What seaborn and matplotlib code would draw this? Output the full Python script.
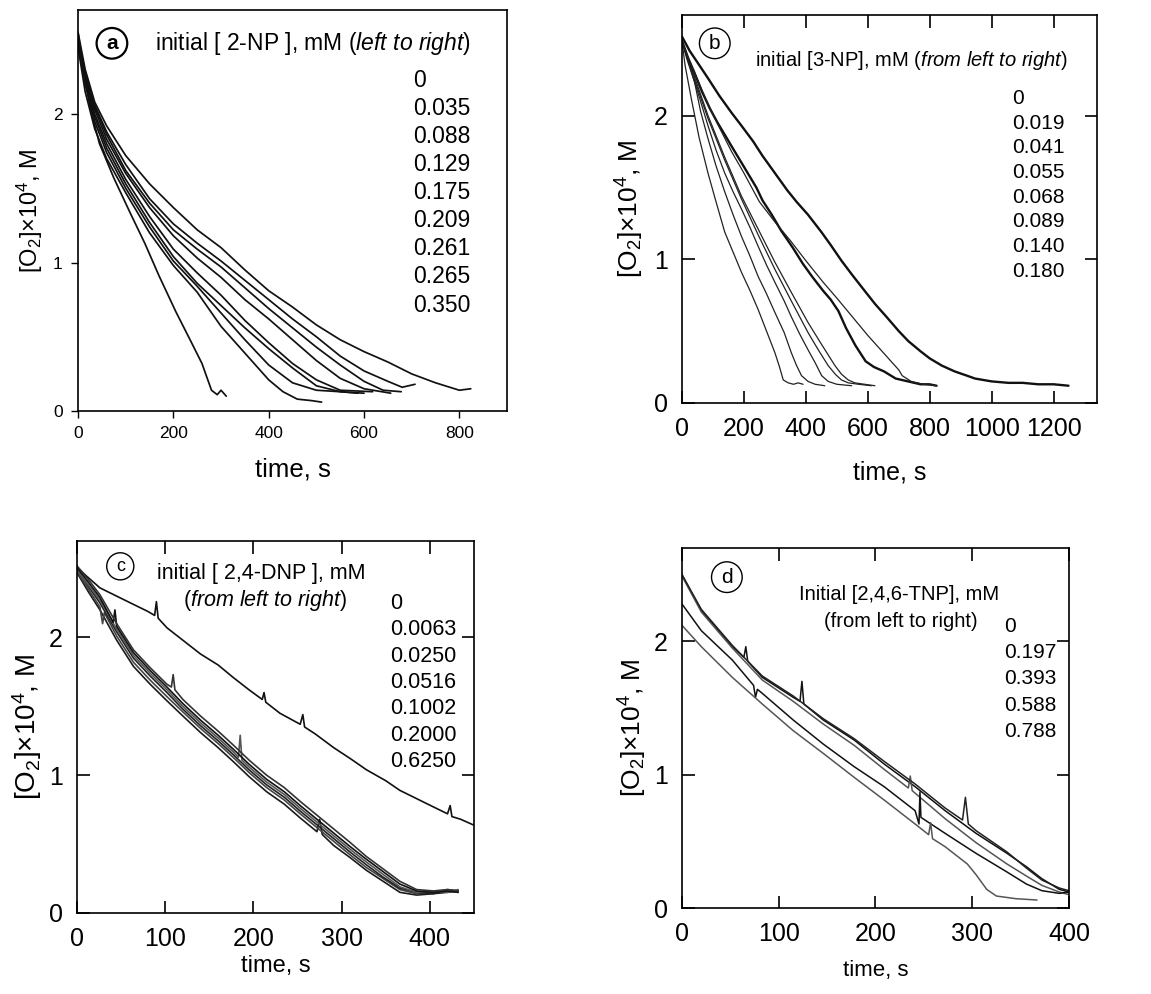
import numpy as np
import pandas as pd
import matplotlib
matplotlib.use("Agg")
import matplotlib.pyplot as plt
import seaborn as sns

sns.set_theme(style="white")
plt.rcParams['font.family'] = ['Liberation Sans', 'DejaVu Sans']
plt.rcParams['mathtext.fontset'] = 'custom'
plt.rcParams['mathtext.rm'] = 'Liberation Sans'
plt.rcParams['mathtext.it'] = 'Liberation Sans:italic'
plt.rcParams['mathtext.bf'] = 'Liberation Sans:bold'
plt.rcParams['text.color'] = 'black'
plt.rcParams['axes.labelcolor'] = 'black'
plt.rcParams['xtick.color'] = 'black'
plt.rcParams['ytick.color'] = 'black'

# ---------------- Panel a: 2-NP ----------------
a_labels = ["0", "0.035", "0.088", "0.129", "0.175", "0.209", "0.261", "0.265", "0.350"]
a_t1 = [0, 10, 25, 45, 75, 110, 140, 170, 205, 235, 260, 280, 292, 300, 311]
a_y1 = [2.55, 2.32, 2.05, 1.80, 1.57, 1.33, 1.13, 0.91, 0.67, 0.48, 0.32, 0.14, 0.11, 0.14, 0.10]
a_t2 = [0, 15, 35, 60, 100, 150, 200, 250, 300, 350, 400, 430, 460, 490, 511]
a_y2 = [2.45, 2.15, 1.90, 1.70, 1.47, 1.20, 0.98, 0.80, 0.57, 0.39, 0.21, 0.13, 0.08, 0.07, 0.06]
a_t3 = [0, 15, 35, 60, 100, 150, 200, 250, 300, 350, 400, 450, 500, 550, 600]
a_y3 = [2.50, 2.20, 1.95, 1.74, 1.50, 1.24, 1.01, 0.84, 0.66, 0.48, 0.31, 0.19, 0.14, 0.13, 0.12]
a_t4 = [0, 15, 35, 60, 100, 150, 200, 250, 300, 350, 400, 450, 500, 550, 587]
a_y4 = [2.52, 2.22, 1.98, 1.77, 1.53, 1.27, 1.04, 0.86, 0.71, 0.56, 0.42, 0.29, 0.17, 0.13, 0.12]
a_t5 = [0, 15, 35, 60, 100, 150, 200, 250, 300, 350, 400, 450, 500, 550, 618]
a_y5 = [2.48, 2.24, 2.00, 1.80, 1.56, 1.31, 1.09, 0.93, 0.78, 0.61, 0.46, 0.32, 0.21, 0.14, 0.13]
a_t6 = [0, 15, 35, 60, 100, 150, 200, 250, 300, 350, 400, 450, 500, 550, 600, 656]
a_y6 = [2.50, 2.26, 2.03, 1.83, 1.60, 1.37, 1.18, 1.03, 0.90, 0.75, 0.62, 0.48, 0.34, 0.22, 0.15, 0.12]
a_t7 = [0, 15, 35, 60, 100, 150, 200, 250, 300, 350, 400, 450, 500, 550, 600, 640, 678]
a_y7 = [2.52, 2.28, 2.05, 1.86, 1.62, 1.40, 1.22, 1.09, 0.97, 0.83, 0.69, 0.56, 0.43, 0.31, 0.20, 0.14, 0.13]
a_t8 = [0, 15, 35, 60, 100, 150, 200, 250, 300, 350, 400, 450, 500, 550, 600, 650, 680, 707]
a_y8 = [2.50, 2.27, 2.06, 1.88, 1.66, 1.43, 1.26, 1.13, 1.01, 0.88, 0.75, 0.62, 0.50, 0.37, 0.27, 0.20, 0.16, 0.18]
a_t9 = [0, 15, 35, 60, 100, 150, 200, 250, 300, 350, 400, 450, 500, 550, 600, 650, 700, 750, 800, 824]
a_y9 = [2.55, 2.30, 2.08, 1.92, 1.72, 1.53, 1.37, 1.22, 1.10, 0.95, 0.81, 0.70, 0.58, 0.48, 0.40, 0.33, 0.25, 0.19, 0.14, 0.15]

# ---------------- Panel b: 3-NP ----------------
b_labels = ["0", "0.019", "0.041", "0.055", "0.068", "0.089", "0.140", "0.180"]
b_t1 = [0, 10, 30, 55, 84, 110, 138, 165, 192, 220, 246, 273, 300, 315, 327, 343, 360, 375, 391]
b_y1 = [2.52, 2.35, 2.12, 1.85, 1.60, 1.40, 1.19, 1.05, 0.91, 0.78, 0.65, 0.50, 0.35, 0.25, 0.16, 0.14, 0.13, 0.14, 0.13]
b_t2 = [0, 15, 41, 60, 84, 110, 138, 165, 192, 220, 246, 273, 300, 330, 353, 370, 386, 407, 430, 461]
b_y2 = [2.52, 2.40, 2.23, 2.03, 1.84, 1.65, 1.47, 1.31, 1.16, 1.02, 0.88, 0.76, 0.63, 0.49, 0.35, 0.26, 0.19, 0.15, 0.13, 0.12]
b_t3 = [0, 20, 50, 84, 110, 138, 165, 192, 220, 246, 273, 300, 330, 353, 380, 407, 430, 451, 472, 500, 548]
b_y3 = [2.52, 2.38, 2.17, 1.93, 1.76, 1.60, 1.47, 1.35, 1.22, 1.09, 0.96, 0.84, 0.71, 0.60, 0.48, 0.37, 0.28, 0.19, 0.15, 0.13, 0.12]
b_t4 = [0, 20, 50, 84, 138, 192, 246, 300, 353, 407, 440, 472, 495, 515, 537, 570, 612]
b_y4 = [2.52, 2.38, 2.19, 1.98, 1.69, 1.42, 1.17, 0.93, 0.71, 0.49, 0.37, 0.26, 0.20, 0.16, 0.14, 0.13, 0.12]
b_t5 = [0, 20, 50, 84, 138, 192, 246, 300, 353, 407, 450, 494, 515, 537, 558, 590, 623]
b_y5 = [2.52, 2.39, 2.21, 2.00, 1.71, 1.44, 1.21, 0.98, 0.77, 0.56, 0.41, 0.26, 0.20, 0.16, 0.14, 0.13, 0.12]
b_t6 = [0, 20, 40, 64, 90, 115, 140, 162, 190, 215, 240, 260, 290, 320, 358, 390, 420, 456, 480,
        505, 530, 560, 593, 620, 652, 690, 730, 770, 799, 822]
b_y6 = [2.52, 2.40, 2.30, 2.17, 2.05, 1.95, 1.86, 1.78, 1.68, 1.59, 1.50, 1.41, 1.31, 1.20, 1.08, 0.97, 0.88, 0.78, 0.72,
        0.64, 0.52, 0.40, 0.29, 0.25, 0.22, 0.17, 0.15, 0.13, 0.13, 0.12]
b_t7 = [0, 20, 50, 84, 120, 160, 200, 250, 300, 350, 400, 456, 500, 550, 600, 650, 700, 711, 740, 780, 822]
b_y7 = [2.52, 2.40, 2.25, 2.08, 1.92, 1.75, 1.60, 1.40, 1.26, 1.13, 0.99, 0.84, 0.73, 0.60, 0.47, 0.35, 0.23, 0.19, 0.15, 0.13, 0.12]
b_t8 = [0, 25, 50, 84, 120, 160, 192, 230, 260, 300, 340, 370, 407, 450, 480, 515, 550, 590, 623, 660,
        700, 731, 770, 800, 839, 880, 920, 946, 1000, 1054, 1100, 1150, 1200, 1248]
b_y8 = [2.55, 2.45, 2.37, 2.26, 2.14, 2.02, 1.93, 1.82, 1.72, 1.60, 1.48, 1.40, 1.31, 1.19, 1.10, 0.99, 0.89, 0.78, 0.69, 0.60,
        0.50, 0.43, 0.36, 0.31, 0.26, 0.22, 0.19, 0.17, 0.15, 0.14, 0.14, 0.13, 0.13, 0.12]

# ---------------- Panel c: 2,4-DNP ----------------
c_labels = ["0", "0.0063", "0.0250", "0.0516", "0.1002", "0.2000", "0.6250"]
c_t0 = [0, 10, 26, 45, 64, 80, 88, 90, 92, 102, 120, 140, 160, 177, 195, 210, 212, 214, 230, 253, 256, 258,
        270, 291, 310, 328, 350, 366, 385, 404, 420, 423, 425, 435, 449]
c_y0 = [2.51, 2.45, 2.36, 2.30, 2.24, 2.19, 2.16, 2.26, 2.14, 2.07, 1.98, 1.88, 1.80, 1.71, 1.62, 1.55, 1.60, 1.53,
        1.45, 1.37, 1.44, 1.35, 1.30, 1.20, 1.12, 1.04, 0.96, 0.89, 0.83, 0.77, 0.72, 0.78, 0.70, 0.68, 0.64]
c_t1 = [0, 13, 26, 45, 64, 83, 102, 120, 140, 160, 177, 195, 215, 235, 253, 272, 275, 278, 291, 310, 328, 347, 366, 385, 404, 420, 432]
c_y1 = [2.47, 2.33, 2.20, 1.98, 1.79, 1.66, 1.54, 1.43, 1.31, 1.20, 1.10, 0.99, 0.88, 0.79, 0.69, 0.59, 0.68, 0.57, 0.49, 0.40, 0.31, 0.23, 0.15, 0.13, 0.14, 0.15, 0.16]
c_t2 = [0, 13, 26, 29, 31, 45, 64, 83, 102, 120, 140, 160, 177, 195, 215, 235, 253, 272, 291, 310, 328, 347, 366, 385, 404, 420, 432]
c_y2 = [2.48, 2.35, 2.22, 2.10, 2.18, 2.01, 1.82, 1.69, 1.57, 1.46, 1.34, 1.23, 1.13, 1.02, 0.91, 0.82, 0.72, 0.62, 0.52, 0.42, 0.33, 0.25, 0.17, 0.14, 0.15, 0.16, 0.15]
c_t3 = [0, 13, 26, 45, 64, 83, 102, 120, 140, 160, 177, 195, 215, 235, 253, 272, 291, 310, 328, 347, 366, 385, 404, 420, 432]
c_y3 = [2.50, 2.37, 2.25, 2.04, 1.85, 1.72, 1.60, 1.48, 1.36, 1.25, 1.15, 1.04, 0.93, 0.84, 0.74, 0.64, 0.54, 0.44, 0.35, 0.26, 0.18, 0.15, 0.14, 0.17, 0.16]
c_t4 = [0, 13, 26, 45, 64, 83, 102, 120, 140, 160, 177, 183, 185, 187, 195, 215, 235, 253, 272, 291, 310, 328, 347, 366, 385, 404, 420, 432]
c_y4 = [2.49, 2.38, 2.27, 2.06, 1.87, 1.74, 1.62, 1.50, 1.38, 1.27, 1.17, 1.13, 1.29, 1.11, 1.06, 0.95, 0.86, 0.76, 0.66, 0.56, 0.46, 0.37, 0.28, 0.19, 0.15, 0.16, 0.15, 0.17]
c_t5 = [0, 13, 26, 41, 43, 45, 64, 83, 102, 120, 140, 160, 177, 195, 215, 235, 253, 272, 291, 310, 328, 347, 366, 385, 404, 420, 432]
c_y5 = [2.51, 2.40, 2.29, 2.11, 2.20, 2.08, 1.89, 1.76, 1.64, 1.52, 1.40, 1.29, 1.19, 1.08, 0.97, 0.88, 0.78, 0.68, 0.58, 0.48, 0.39, 0.30, 0.21, 0.16, 0.15, 0.16, 0.15]
c_t6 = [0, 13, 26, 45, 64, 83, 102, 107, 109, 111, 120, 140, 160, 177, 195, 215, 235, 253, 272, 291, 310, 328, 347, 366, 385, 404, 420, 432]
c_y6 = [2.52, 2.42, 2.31, 2.10, 1.91, 1.78, 1.66, 1.64, 1.73, 1.62, 1.55, 1.43, 1.32, 1.22, 1.11, 1.00, 0.91, 0.81, 0.71, 0.61, 0.51, 0.41, 0.32, 0.23, 0.17, 0.16, 0.17, 0.16]

# ---------------- Panel d: 2,4,6-TNP ----------------
d_labels = ["0", "0.197", "0.393", "0.588", "0.788"]
d_t1 = [0, 20, 52, 64, 66, 68, 83, 115, 122, 124, 126, 146, 178, 209, 241, 272, 304, 336, 356, 372, 390, 400]
d_y1 = [2.50, 2.23, 1.96, 1.88, 1.96, 1.85, 1.73, 1.58, 1.55, 1.70, 1.53, 1.41, 1.26, 1.08, 0.91, 0.73, 0.56, 0.41, 0.31, 0.22, 0.14, 0.12]
d_t2 = [0, 20, 52, 83, 115, 146, 178, 209, 234, 236, 238, 272, 304, 336, 356, 372, 390, 400]
d_y2 = [2.49, 2.22, 1.95, 1.71, 1.55, 1.38, 1.22, 1.04, 0.90, 0.99, 0.88, 0.67, 0.49, 0.33, 0.24, 0.17, 0.12, 0.10]
d_t3 = [0, 20, 52, 83, 115, 146, 178, 209, 241, 272, 290, 293, 296, 304, 336, 356, 372, 390, 400]
d_y3 = [2.50, 2.24, 1.97, 1.74, 1.59, 1.42, 1.27, 1.10, 0.93, 0.75, 0.66, 0.83, 0.63, 0.58, 0.42, 0.30, 0.21, 0.15, 0.13]
d_t4 = [0, 20, 52, 74, 76, 78, 83, 115, 146, 178, 209, 241, 245, 246, 247, 272, 304, 336, 356, 372, 390, 400]
d_y4 = [2.28, 2.08, 1.86, 1.67, 1.58, 1.64, 1.61, 1.41, 1.23, 1.06, 0.91, 0.73, 0.63, 0.87, 0.68, 0.56, 0.41, 0.27, 0.18, 0.13, 0.11, 0.12]
d_t5 = [0, 20, 52, 83, 115, 146, 178, 209, 241, 255, 257, 259, 272, 295, 304, 315, 325, 345, 367]
d_y5 = [2.12, 1.96, 1.73, 1.53, 1.33, 1.16, 0.98, 0.81, 0.63, 0.55, 0.64, 0.52, 0.46, 0.33, 0.25, 0.14, 0.09, 0.07, 0.06]

panel_a = [(a_t1, a_y1), (a_t2, a_y2), (a_t3, a_y3), (a_t4, a_y4), (a_t5, a_y5),
           (a_t6, a_y6), (a_t7, a_y7), (a_t8, a_y8), (a_t9, a_y9)]
panel_b = [(b_t1, b_y1), (b_t2, b_y2), (b_t3, b_y3), (b_t4, b_y4), (b_t5, b_y5),
           (b_t6, b_y6), (b_t7, b_y7), (b_t8, b_y8)]
panel_c = [(c_t0, c_y0), (c_t1, c_y1), (c_t2, c_y2), (c_t3, c_y3), (c_t4, c_y4), (c_t5, c_y5), (c_t6, c_y6)]
panel_d = [(d_t1, d_y1), (d_t2, d_y2), (d_t3, d_y3), (d_t4, d_y4), (d_t5, d_y5)]

fig = plt.figure(figsize=(11.51, 9.94), dpi=100)
ax_a = fig.add_axes([0.0678, 0.5865, 0.3727, 0.4034])
ax_b = fig.add_axes([0.5925, 0.5946, 0.3606, 0.3903])
ax_c = fig.add_axes([0.0669, 0.0815, 0.3449, 0.3742])
ax_d = fig.add_axes([0.5925, 0.0865, 0.3362, 0.3622])

YLAB = r'[O$_2$]×10$^4$, M'


def draw(ax, runs, colors, widths):
    for i, (t, y) in enumerate(runs):
        df = pd.DataFrame({"time": t, "O2": y})
        sns.lineplot(data=df, x="time", y="O2", ax=ax, color=colors[i], linewidth=widths[i],
                     estimator=None, sort=False, legend=False)
    for s in ax.spines.values():
        s.set_visible(True)
        s.set_color('black')
        s.set_linewidth(1.2)


def circ(ax, fx, fy, letter, size, bold=False, lw=1.0):
    ax.text(fx, fy, letter, transform=ax.transAxes, ha='center', va='center', fontsize=size,
            fontweight='bold' if bold else 'normal', color='black',
            bbox=dict(boxstyle='circle,pad=0.28', fc='white', ec='black', lw=lw))


def numbers(ax, fx, fy0, dy, labels, size):
    for k, lab in enumerate(labels):
        ax.text(fx, fy0 - k * dy, lab, transform=ax.transAxes, ha='left', va='center',
                fontsize=size, color='black')


# ---- panel a
draw(ax_a, panel_a, ['#111111'] * 9, [1.25] * 9)
ax_a.set_xlim(0, 900)
ax_a.set_ylim(0, 2.7)
ax_a.set_xticks([0, 200, 400, 600, 800])
ax_a.set_yticks([0, 1, 2])
ax_a.tick_params(direction='out', length=5, width=1, labelsize=12.5, top=False, right=False,
                 bottom=True, left=True, colors='black', pad=6)
ax_a.set_xlabel('time, s', fontsize=18.5, labelpad=12)
ax_a.set_ylabel(YLAB, fontsize=17, labelpad=6)
circ(ax_a, 0.079, 0.917, 'a', 15, bold=True, lw=1.6)
ax_a.text(0.18, 0.917, r'initial [ 2-NP ], mM ($\mathit{left\ to\ right}$)', transform=ax_a.transAxes,
          ha='left', va='center', fontsize=16.5)
numbers(ax_a, 0.782, 0.825, 0.0701, a_labels, 16.5)

# ---- panel b
draw(ax_b, panel_b, ['#222222'] * 5 + ['#111111', '#222222', '#111111'], [0.9] * 5 + [1.7, 0.9, 1.7])
ax_b.set_xlim(0, 1340)
ax_b.set_ylim(0, 2.7)
ax_b.set_xticks([0, 200, 400, 600, 800, 1000, 1200])
ax_b.set_yticks([0, 1, 2])
ax_b.tick_params(direction='in', length=9, width=1.2, labelsize=18, top=True, right=True,
                 bottom=True, left=True, colors='black', pad=10)
ax_b.set_xlabel('time, s', fontsize=18, labelpad=14)
ax_b.set_ylabel(YLAB, fontsize=19, labelpad=6)
circ(ax_b, 0.079, 0.927, 'b', 15, lw=1.0)
ax_b.text(0.175, 0.884, r'initial [3-NP], mM ($\mathit{from\ left\ to\ right}$)', transform=ax_b.transAxes,
          ha='left', va='center', fontsize=14.5)
numbers(ax_b, 0.795, 0.785, 0.0637, b_labels, 15)

# ---- panel c
draw(ax_c, panel_c, ['#111111', '#1a1a1a', '#444444', '#222222', '#555555', '#111111', '#333333'], [1.2] * 7)
ax_c.set_xlim(0, 450)
ax_c.set_ylim(0, 2.7)
ax_c.set_xticks([0, 100, 200, 300, 400])
ax_c.set_yticks([0, 1, 2])
ax_c.tick_params(direction='in', length=9, width=1.2, labelsize=18, top=True, right=True,
                 bottom=True, left=True, colors='black', pad=10)
ax_c.set_xlabel('time, s', fontsize=17, labelpad=3)
ax_c.set_ylabel(YLAB, fontsize=20, labelpad=4)
circ(ax_c, 0.109, 0.932, 'c', 13, lw=1.0)
ax_c.text(0.465, 0.912, 'initial [ 2,4-DNP ], mM', transform=ax_c.transAxes,
          ha='center', va='center', fontsize=15.5)
ax_c.text(0.474, 0.840, r'($\mathit{from\ left\ to\ right}$)', transform=ax_c.transAxes,
          ha='center', va='center', fontsize=15.5)
numbers(ax_c, 0.789, 0.832, 0.0708, c_labels, 15.5)

# ---- panel d
draw(ax_d, panel_d, ['#111111', '#555555', '#222222', '#111111', '#555555'], [1.1] * 5)
ax_d.set_xlim(0, 400)
ax_d.set_ylim(0, 2.7)
ax_d.set_xticks([0, 100, 200, 300, 400])
ax_d.set_yticks([0, 1, 2])
ax_d.tick_params(direction='in', length=9, width=1.2, labelsize=18, top=True, right=True,
                 bottom=True, left=True, colors='black', pad=10)
ax_d.set_xlabel('time, s', fontsize=16, labelpad=10)
ax_d.set_ylabel(YLAB, fontsize=19, labelpad=4)
circ(ax_d, 0.116, 0.919, 'd', 15, lw=1.0)
ax_d.text(0.562, 0.870, 'Initial [2,4,6-TNP], mM', transform=ax_d.transAxes,
          ha='center', va='center', fontsize=14.5)
ax_d.text(0.566, 0.796, '(from left to right)', transform=ax_d.transAxes,
          ha='center', va='center', fontsize=14.5)
numbers(ax_d, 0.833, 0.782, 0.0728, d_labels, 15)

fig.savefig('out.png', dpi=100, facecolor='white')
